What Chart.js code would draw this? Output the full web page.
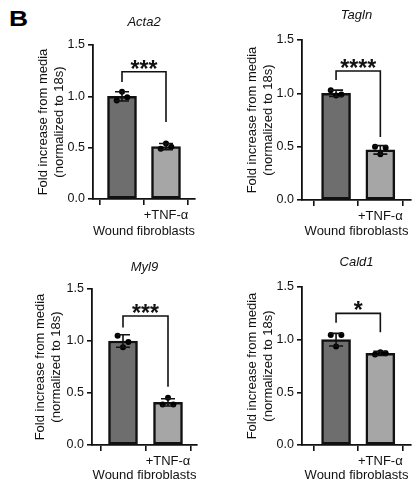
<!DOCTYPE html>
<html>
<head>
<meta charset="utf-8">
<script src="https://cdn.jsdelivr.net/npm/chart.js@4/dist/chart.umd.min.js"></script>
<style>
  body { margin: 0; background: #fff; }
  #wrap { position: relative; width: 415px; height: 490px; overflow: hidden; }
  canvas { position: absolute; }
  #lbl { position: absolute; left: 9px; top: 8px; font: bold 22px "Liberation Sans", Arial, sans-serif; transform: scaleX(1.2); transform-origin: left top; line-height: 1; }
</style>
</head>
<body>
<div id="wrap">
  <div id="lbl">B</div>
  <canvas id="c0" width="205" height="245" style="left:0;top:0"></canvas>
  <canvas id="c1" width="210" height="245" style="left:205px;top:0"></canvas>
  <canvas id="c2" width="205" height="245" style="left:0;top:245px"></canvas>
  <canvas id="c3" width="210" height="245" style="left:205px;top:245px"></canvas>
</div>
<script>
// data
const genes = ["Acta2", "Tagln", "Myl9", "Cald1"];
const groups = ["", "+TNF-α"];
const means = [[1.00, 0.51], [1.00, 0.47], [1.00, 0.41], [1.00, 0.87]];
const sds = [[0.045, 0.03], [0.03, 0.04], [0.06, 0.035], [0.06, 0.02]];
// replicate points, left / middle / right
const reps = [
  [[0.96, 1.045, 0.99], [0.49, 0.54, 0.51]],
  [[1.03, 0.98, 0.99], [0.50, 0.43, 0.49]],
  [[1.05, 0.94, 0.99], [0.39, 0.455, 0.39]],
  [[1.045, 0.935, 1.045], [0.86, 0.88, 0.87]]
];
const stars = ["***", "****", "***", "*"];
const bracketTop = [1.24, 1.21, 1.24, 1.25];
const bracketLegs = [[1.14, 0.75], [1.125, 0.59], [1.13, 0.56], [1.16, 1.07]];
const yTicks = [0, 0.5, 1.0, 1.5];
const yTitle = ["Fold increase from media", "(normalized to 18s)"];
const xTitle = "Wound fibroblasts";

// panel geometry (pixels inside each canvas)
const panels = [
  { w: 205, left: 93, top: 45, bottom: 199, right: 195, c0: 122, c1: 166, titleY: 22, yTitlePad: 36, xTitleY: 231 },
  { w: 210, left: 97, top: 40, bottom: 200, right: 209, c0: 132, c1: 177.5, titleY: 15, yTitlePad: 40, xTitleY: 231 },
  { w: 205, left: 92, top: 44, bottom: 200, right: 197, c0: 123, c1: 168, titleY: 22, yTitlePad: 33, xTitleY: 230 },
  { w: 210, left: 97, top: 42, bottom: 200, right: 209, c0: 132, c1: 177.5, titleY: 17, yTitlePad: 40, xTitleY: 230 }
];
const H = 245;
const jitter = [-0.12, 0, 0.12];
const FONT = "'Liberation Sans', Arial, sans-serif";

const overlay = {
  id: "overlay",
  afterDatasetsDraw(chart) {
    const i = chart.options.plugins.overlay.idx;
    const { ctx, scales: { x, y } } = chart;
    ctx.save();
    ctx.strokeStyle = "#111";
    ctx.lineWidth = 1.6;
    // error bars
    means[i].forEach((m, g) => {
      const px = x.getPixelForValue(g);
      const t = y.getPixelForValue(m + sds[i][g]);
      const b = y.getPixelForValue(m - sds[i][g]);
      ctx.beginPath();
      ctx.moveTo(px, t); ctx.lineTo(px, b);
      ctx.moveTo(px - 7, t); ctx.lineTo(px + 7, t);
      ctx.moveTo(px - 7, b); ctx.lineTo(px + 7, b);
      ctx.stroke();
    });
    // significance bracket
    const x0 = x.getPixelForValue(0), x1 = x.getPixelForValue(1);
    const yt = y.getPixelForValue(bracketTop[i]);
    ctx.beginPath();
    ctx.moveTo(x0, y.getPixelForValue(bracketLegs[i][0]));
    ctx.lineTo(x0, yt);
    ctx.lineTo(x1, yt);
    ctx.lineTo(x1, y.getPixelForValue(bracketLegs[i][1]));
    ctx.stroke();
    ctx.fillStyle = "#111";
    ctx.font = "bold 23px " + FONT;
    ctx.textAlign = "center";
    ctx.textBaseline = "alphabetic";
    ctx.fillText(stars[i], (x0 + x1) / 2, yt + 5);
    ctx.restore();
  }
};

genes.forEach((gene, i) => {
  const p = panels[i];
  const unit = p.c1 - p.c0;
  const titleLH = 15.6;
  const padTop = p.titleY - titleLH / 2;
  const ptData = [];
  reps[i].forEach((vals, g) => vals.forEach((v, k) => ptData.push({ x: g + jitter[k], y: v })));

  new Chart(document.getElementById("c" + i), {
    type: "bar",
    data: {
      datasets: [
        {
          type: "scatter",
          data: ptData,
          backgroundColor: "#000",
          borderWidth: 0,
          pointRadius: 3
        },
        {
          type: "bar",
          data: means[i].map((m, g) => ({ x: g, y: m })),
          backgroundColor: ["#6e6e6e", "#a6a6a6"],
          borderColor: "#111",
          borderWidth: 2.5,
          borderSkipped: false,
          barThickness: 29
        }
      ]
    },
    options: {
      responsive: false,
      animation: false,
      events: [],
      layout: { padding: { left: 0, right: p.w - p.right, top: padTop, bottom: 0 } },
      plugins: {
        legend: { display: false },
        tooltip: { enabled: false },
        overlay: { idx: i },
        title: {
          display: true,
          text: gene,
          fullSize: false,
          color: "#111",
          font: { family: FONT, size: 13, style: "italic", weight: "normal", lineHeight: 1.2 },
          padding: { top: 0, bottom: p.top - p.titleY - titleLH / 2 }
        }
      },
      scales: {
        x: {
          type: "linear",
          offset: false,
          min: (p.left - p.c0) / unit,
          max: 1 + (p.right - p.c1) / unit,
          afterFit: s => { s.height = H - p.bottom; },
          afterBuildTicks: s => { s.ticks = groups.map((_, g) => ({ value: g })); },
          ticks: {
            color: "#111",
            padding: 3,
            font: { family: FONT, size: 13 },
            callback: v => groups[v]
          },
          grid: { display: true, drawOnChartArea: false, drawTicks: true, tickLength: 6, color: "#111", lineWidth: 1.6 },
          border: { display: true, color: "#111", width: 1.8 },
          title: {
            display: true,
            text: xTitle,
            color: "#111",
            font: { family: FONT, size: 13, lineHeight: 1.2 },
            padding: { top: 0, bottom: H - p.xTitleY - titleLH / 2 }
          }
        },
        y: {
          min: 0,
          max: 1.5,
          afterFit: s => { s.width = p.left; },
          afterBuildTicks: s => { s.ticks = yTicks.map(v => ({ value: v })); },
          ticks: {
            color: "#111",
            padding: 3,
            font: { family: FONT, size: 12.5 },
            callback: v => v.toFixed(1)
          },
          grid: { display: true, drawOnChartArea: false, drawTicks: true, tickLength: 5, color: "#111", lineWidth: 1.6 },
          border: { display: true, color: "#111", width: 1.8 },
          title: {
            display: true,
            text: yTitle,
            color: "#111",
            font: { family: FONT, size: 13, lineHeight: 1.2 },
            padding: { top: p.yTitlePad, bottom: 0 }
          }
        }
      }
    },
    plugins: [overlay]
  });
});
</script>
</body>
</html>
